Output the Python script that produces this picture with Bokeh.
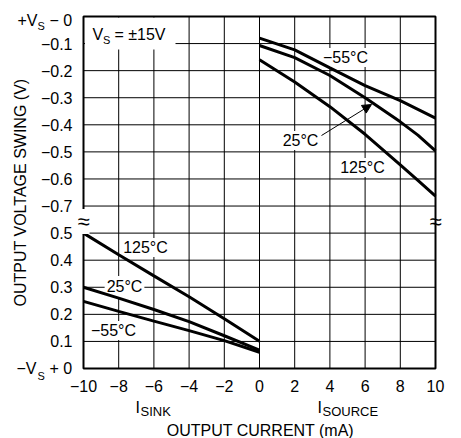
import math
from bokeh.plotting import figure
from bokeh.models import Range1d, FixedTicker, Label, Arrow, NormalHead
from bokeh.embed import file_html
from bokeh.resources import INLINE

# ---------------- data ----------------
source_current = [0, 2, 4, 6, 8, 9, 10]  # mA (I_SOURCE)
source_swing_m55 = [-0.080, -0.123, -0.190, -0.255, -0.311, -0.343, -0.375]
source_swing_25 = [-0.107, -0.152, -0.218, -0.300, -0.389, -0.438, -0.496]
source_swing_125 = [-0.160, -0.242, -0.333, -0.435, -0.548, -0.605, -0.663]

sink_current = [-10, -8, -6, -4, -2, 0]  # mA (I_SINK)
sink_swing_125 = [0.500, 0.420, 0.342, 0.265, 0.184, 0.101]
sink_swing_25 = [0.300, 0.260, 0.218, 0.173, 0.121, 0.068]
sink_swing_m55 = [0.248, 0.211, 0.175, 0.140, 0.103, 0.060]

x_ticks = [-10, -8, -6, -4, -2, 0, 2, 4, 6, 8, 10]
x_tick_labels = ["−10", "−8", "−6", "−4", "−2", "0", "2", "4", "6", "8", "10"]

y_ticks_high = [-0.7, -0.6, -0.5, -0.4, -0.3, -0.2, -0.1, 0.0]   # relative to +VS
y_labels_high = ["−0.7", "−0.6", "−0.5", "−0.4", "−0.3", "−0.2", "−0.1", ""]
y_ticks_low = [0.0, 0.1, 0.2, 0.3, 0.4, 0.5]                      # relative to -VS
y_labels_low = ["", "0.1", "0.2", "0.3", "0.4", "0.5"]

FONT = "Liberation Sans"

# broken axis: 13 rows of 0.1 V; lower part 0..0.5 V (rows 0-5), one gap row,
# upper part -0.7..0 V (rows 6-13)
def row_high(v):
    return round(13 + v * 10, 6)

def row_low(v):
    return round(v * 10, 6)

# ---- layout: the plotting area is the whole canvas; chart box is x -10..10, rows 0..13 ----
W, H = 461, 438
BOX_L, BOX_T, BOX_W, BOX_H = 83, 16, 352, 352
PX_PER_X = BOX_W / 20.0
PX_PER_ROW = BOX_H / 13.0
x0 = -10 - BOX_L / PX_PER_X
x1 = 10 + (W - BOX_L - BOX_W) / PX_PER_X
y1 = 13 + BOX_T / PX_PER_ROW
y0 = -(H - BOX_T - BOX_H) / PX_PER_ROW

def X(px):
    return (px - BOX_L) / PX_PER_X - 10

def Y(py):
    return (BOX_T + BOX_H - py) / PX_PER_ROW

p = figure(frame_width=W, frame_height=H, output_backend="svg", toolbar_location=None,
           x_range=Range1d(x0, x1), y_range=Range1d(y0, y1),
           min_border=0, min_border_left=0, min_border_right=0,
           min_border_top=0, min_border_bottom=0)
p.background_fill_color = "white"
p.border_fill_color = "white"
p.outline_line_color = None
p.xgrid.visible = False
p.ygrid.visible = False

y_rows = [row_low(v) for v in y_ticks_low] + [row_high(v) for v in y_ticks_high]
y_texts = y_labels_low + y_labels_high

p.xaxis.fixed_location = 0
p.yaxis.fixed_location = -10
p.xaxis.ticker = FixedTicker(ticks=x_ticks)
p.yaxis.ticker = FixedTicker(ticks=y_rows)
p.xaxis.major_label_overrides = {t: s for t, s in zip(x_ticks, x_tick_labels)}
p.yaxis.major_label_overrides = {int(round(r)): s for r, s in zip(y_rows, y_texts)}
for ax in (p.xaxis, p.yaxis):
    ax.axis_line_color = None
    ax.major_tick_line_color = None
    ax.minor_tick_line_color = None
    ax.major_tick_out = 0
    ax.major_tick_in = 0
    ax.major_label_text_font = FONT
    ax.major_label_text_font_size = "16px"
    ax.major_label_text_color = "black"
p.xaxis.major_label_standoff = 11
p.yaxis.major_label_standoff = 11

# grid lines of the chart box
p.segment(x0=x_ticks, y0=[0] * len(x_ticks), x1=x_ticks, y1=[13] * len(x_ticks),
          line_color="black", line_width=1, level="image")
p.segment(x0=[-10] * len(y_rows), y0=y_rows, x1=[10] * len(y_rows), y1=y_rows,
          line_color="black", line_width=1, level="image")

def txt(s, px, py, size=16, align="left", bg=None, angle=0.0, pad=None, level="annotation"):
    kw = dict(x=X(px), y=Y(py), text=s, text_font=FONT, text_font_size=f"{size}px",
              text_align=align, text_baseline="middle", text_color="black", angle=angle,
              level=level)
    if bg:
        kw["background_fill_color"] = bg
        if pad is not None:
            kw["padding"] = pad
    p.add_layout(Label(**kw))

# white box behind the supply annotation (under the curves, over the grid)
p.quad(left=[X(84.5)], right=[X(175)], bottom=[Y(49)], top=[Y(17)],
       fill_color="white", line_color=None, level="underlay")

# curve labels (white background hides grid lines, drawn below curves)
txt("−55°C", 345, 57, align="center", bg="white", pad=1, level="underlay")
txt("25°C", 300, 140, align="center", bg="white", pad=1, level="underlay")
txt("125°C", 362, 167, align="center", bg="white", pad=1, level="underlay")
txt("125°C", 145, 247, align="center", bg="white", pad=1, level="underlay")
txt("25°C", 124, 286, align="center", bg="white", pad=2, level="underlay")
txt("−55°C", 113, 330, align="center", bg="white", pad=1, level="underlay")

# curves
for ys in (source_swing_m55, source_swing_25, source_swing_125):
    p.line(source_current, [row_high(v) for v in ys], line_color="black", line_width=3)
for ys in (sink_swing_125, sink_swing_25, sink_swing_m55):
    p.line(sink_current, [row_low(v) for v in ys], line_color="black", line_width=3)

# chart box outline
p.quad(left=[-10], right=[10], bottom=[0], top=[13], fill_color=None,
       line_color="black", line_width=2)

txt("V", 92, 34)
txt("S", 102.5, 39, size=11)
txt("= ±15V", 114, 34)

# supply-relative tick labels with subscripts
txt("+V", 17, 19.5)
txt("S", 37, 25.5, size=11)
txt("− 0", 49, 19.5)
txt("−V", 16, 368)
txt("S", 37, 375, size=11)
txt("+ 0", 49, 368)

p.add_layout(Arrow(x_start=X(321), y_start=Y(135), x_end=X(371), y_end=Y(104),
                   line_color="black", line_width=1,
                   end=NormalHead(size=9, fill_color="black", line_color="black")))

# axis break marks
txt("≈", 83, 221, size=22, align="center", bg="white", pad=0)
txt("≈", 435, 221, size=22, align="center")

# axis titles
txt("OUTPUT VOLTAGE SWING (V)", 20, 192, align="center", angle=math.pi / 2)
txt("I", 135, 407)
txt("SINK", 140, 411, size=13)
txt("I", 317, 407)
txt("SOURCE", 322, 411, size=13)
txt("OUTPUT CURRENT (mA)", 260, 430, align="center")

open("out.html", "w").write(file_html(p, INLINE))
